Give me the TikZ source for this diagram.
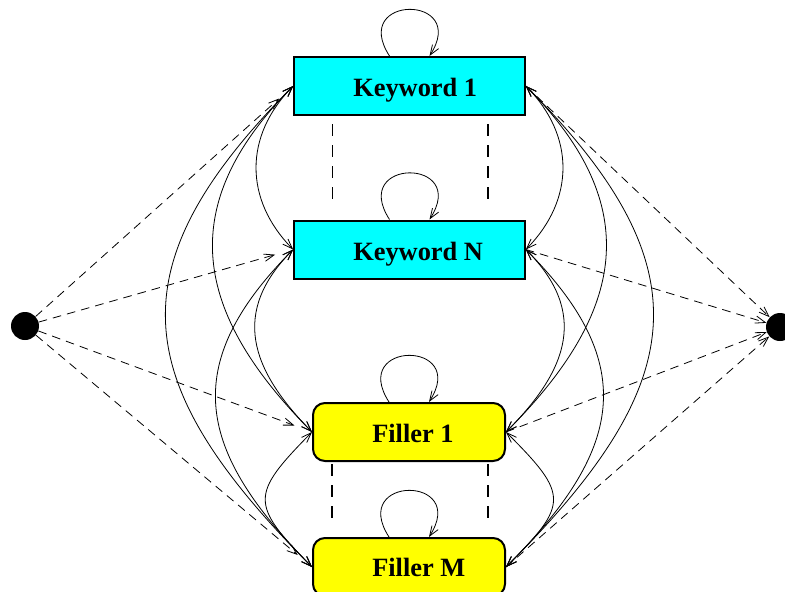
\documentclass[tikz,border=0pt]{standalone}
\usepackage{fontspec}
\setmainfont{Liberation Serif}
\usetikzlibrary{arrows.meta,calc}
\definecolor{boxcyan}{RGB}{0,255,255}
\definecolor{boxyellow}{RGB}{255,255,0}
\begin{document}
\begin{tikzpicture}[x=0.75pt,y=-0.75pt,
  tip/.tip={Straight Barb[length=7.5pt,width=5.5pt,line width=0.6pt]},
  kbox/.style={draw,line width=1.5pt,fill=boxcyan,minimum width=173pt,minimum height=43.5pt,inner sep=0pt},
  fbox/.style={draw,line width=1.5pt,fill=boxyellow,rounded corners=9pt,minimum width=144pt,minimum height=43.5pt,inner sep=0pt},
  lbl/.style={font=\fontsize{19.8}{24}\selectfont\bfseries,inner sep=0pt,anchor=base west},
  dot/.style={circle,fill=black,minimum size=21pt,inner sep=0pt},
  trans/.style={line width=0.6pt,{tip}-{tip}},
  loopy/.style={line width=0.6pt,-{tip}},
  dsh/.style={line width=0.6pt,dash pattern=on 6.5pt off 4.5pt,-{tip}},
  vdsh/.style={line width=1pt,dash pattern=on 9pt off 6.75pt}]
\useasboundingbox (0,0) rectangle (785,592);
\node[kbox] (K1) at (409.5,86) {};
\node[kbox] (KN) at (409.5,249.5) {};
\node[fbox] (F1) at (409,432) {};
\node[fbox] (FM) at (409,567) {};
\node[lbl] (K1t) at (353,97) {Keyword 1};
\node[lbl] (KNt) at (353,260) {Keyword N};
\node[lbl] (F1t) at (372,442) {Filler 1};
\node[lbl] (FMt) at (372,576) {Filler M};
\node[dot] (Ld) at (25,326) {};
\node[dot] (Rd) at (780,327) {};
% vertical dashed separators
\draw[vdsh] ($(K1.south west)+(39,8)$) -- ($(KN.north west)+(39,-15)$);
\draw[vdsh] ($(K1.south east)+(-38,8)$) -- ($(KN.north east)+(-38,-15)$);
\draw[vdsh] ($(F1.south west)+(20,2)$) -- ($(FM.north west)+(20,-10)$);
\draw[vdsh] ($(F1.south east)+(-18,2)$) -- ($(FM.north east)+(-18,-10)$);
% self loops
\foreach \n in {K1,KN,F1,FM}{
  \draw[loopy] ($(\n.north)+(-20,0)$) .. controls +(-40,-62) and +(40,-62) .. ($(\n.north)+(20,0)$);
}
% left transitions
\draw[trans] (K1.west) .. controls (244,136) and (244,199.5) .. (KN.west);
\draw[trans] (K1.west) .. controls (174,206) and (193,312) .. (F1.west);
\draw[trans] (K1.west) .. controls (111,269) and (130,384) .. (FM.west);
\draw[trans] (KN.west) .. controls (231,312) and (250,369) .. (F1.west);
\draw[trans] (KN.west) .. controls (178,365.5) and (197,451) .. (FM.west);
\draw[trans] (F1.west) .. controls (250,495) and (250,504) .. (FM.west);
% right transitions
\draw[trans] (K1.east) .. controls (575,136) and (575,199.5) .. (KN.east);
\draw[trans] (K1.east) .. controls (645,206) and (626,312) .. (F1.east);
\draw[trans] (K1.east) .. controls (708,269) and (689,384) .. (FM.east);
\draw[trans] (KN.east) .. controls (588,312) and (569,369) .. (F1.east);
\draw[trans] (KN.east) .. controls (641,365.5) and (622,451) .. (FM.east);
\draw[trans] (F1.east) .. controls (569,495) and (569,504) .. (FM.east);
% entry / exit
\foreach \n in {K1,KN,F1,FM}{
  \draw[dsh,shorten >=14pt] (Ld) -- (\n.west);
  \draw[dsh] (\n.east) -- (Rd);
}
\end{tikzpicture}
\end{document}
